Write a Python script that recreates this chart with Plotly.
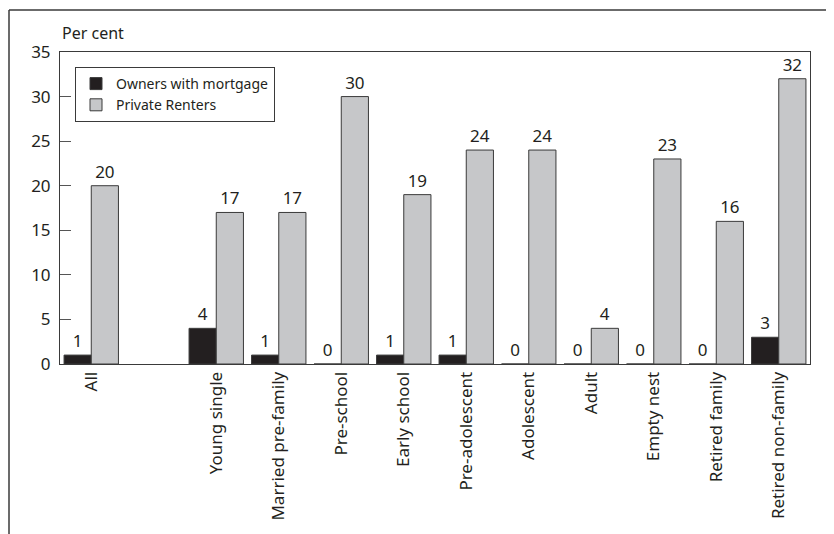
import plotly.graph_objects as go

categories = ['All', ' ', 'Young single', 'Married pre-family', 'Pre-school',
              'Early school', 'Pre-adolescent', 'Adolescent', 'Adult',
              'Empty nest', 'Retired family', 'Retired non-family']
owners_mortgage = [1, None, 4, 1, 0, 1, 1, 0, 0, 0, 0, 3]
private_renters = [20, None, 17, 17, 30, 19, 24, 24, 4, 23, 16, 32]

FONT = 'Noto Sans'
TXT = '#231f20'
EDGE = '#3a3a3a'

# page body has an 8px margin, so the figure is drawn slightly smaller
W, H = 826, 526
L, T, R, B = 52, 44, 24, 170
PW, PH = W - L - R, H - T - B

fig = go.Figure()
fig.add_trace(go.Bar(
    x=categories, y=owners_mortgage, name='Owners with mortgage',
    marker=dict(color='#231f20', line=dict(color=EDGE, width=1)),
    text=owners_mortgage, textposition='outside', cliponaxis=False,
    constraintext='none',
    textfont=dict(size=17, color=TXT, family=FONT),
))
fig.add_trace(go.Bar(
    x=categories, y=private_renters, name='Private Renters',
    marker=dict(color='#c6c7c9', line=dict(color=EDGE, width=1)),
    text=private_renters, textposition='outside', cliponaxis=False,
    constraintext='none',
    textfont=dict(size=17, color=TXT, family=FONT),
))

fig.update_layout(
    width=W, height=H,
    margin=dict(l=L, r=R, t=T, b=B),
    barmode='group', bargap=0.13, bargroupgap=0,
    plot_bgcolor='white', paper_bgcolor='white',
    font=dict(family=FONT, color=TXT, size=16),
    showlegend=True,
    legend=dict(x=15 / PW, y=1 - 15 / PH, xanchor='left', yanchor='top',
                bordercolor=EDGE, borderwidth=1, bgcolor='white',
                font=dict(size=14, family=FONT, color=TXT),
                tracegroupgap=0, itemwidth=30),
    annotations=[dict(text='Per cent', xref='paper', yref='paper',
                      x=0, y=1, xanchor='left', yanchor='bottom', yshift=6,
                      showarrow=False, font=dict(size=16, family=FONT, color=TXT))],
    shapes=[
        dict(type='line', xref='paper', yref='paper', x0=-(L - 1) / PW, x1=-(L - 1) / PW,
             y0=1 + (T - 2) / PH, y1=-1, line=dict(color=EDGE, width=1.5)),
        dict(type='line', xref='paper', yref='paper', x0=-(L - 1) / PW, x1=1.1,
             y0=1 + (T - 2) / PH, y1=1 + (T - 2) / PH, line=dict(color=EDGE, width=1.5)),
    ],
)
fig.update_xaxes(type='category', tickangle=-90, showline=True, mirror=True,
                 linecolor=EDGE, linewidth=1, ticks='', showgrid=False,
                 tickfont=dict(size=17, family=FONT, color=TXT))
fig.update_yaxes(range=[0, 35], dtick=5, showline=True, mirror=True,
                 linecolor=EDGE, linewidth=1, ticks='inside', ticklen=11,
                 tickcolor='#555555', showgrid=False, zeroline=False,
                 ticklabelstandoff=5,
                 tickfont=dict(size=17, family=FONT, color=TXT))

fig.write_html("out.html")
